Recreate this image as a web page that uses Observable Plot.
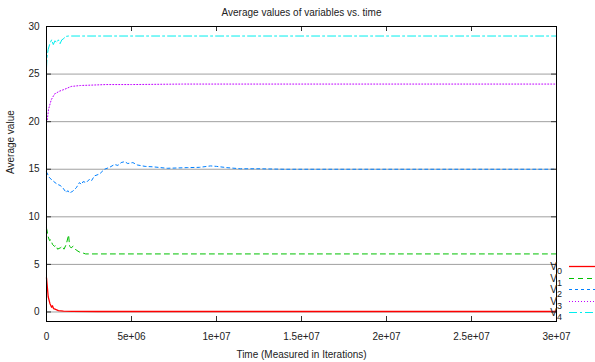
<!DOCTYPE html>
<html><head><meta charset="utf-8">
<script src="https://cdn.jsdelivr.net/npm/d3@7"></script>
<script src="https://cdn.jsdelivr.net/npm/@observablehq/plot@0.6"></script>
<style>body{margin:0;background:#fff} svg{display:block}</style>
</head><body><div id="chart"></div>
<script>
const title = "Average values of variables vs. time";
const xLabel = "Time (Measured in Iterations)";
const yLabel = "Average value";
const xTicks = [0, 5e6, 1e7, 1.5e7, 2e7, 2.5e7, 3e7];
const xTickLabels = ["0", "5e+06", "1e+07", "1.5e+07", "2e+07", "2.5e+07", "3e+07"];
const yTicks = [0, 5, 10, 15, 20, 25, 30];
const seriesNames = ["0", "1", "2", "3", "4"];
const seriesColors = ["#ff0000", "#00c000", "#0080ff", "#c000ff", "#00eeee"];
const seriesDashes = ["none", "5,4", "3,3", "1,2", "8,3,2,3"];

// time in millions of iterations
const t0 = [0, 0.05, 0.1, 0.2, 0.3, 0.35, 0.42, 0.5, 0.7, 1.0, 1.5, 3, 30];
const v0 = [3.6, 2.6, 1.6, 0.9, 0.5, 0.65, 0.35, 0.3, 0.15, 0.1, 0.07, 0.05, 0.05];
const t1 = [0, 0.04, 0.08, 0.18, 0.26, 0.35, 0.47, 0.56, 0.65, 0.82, 0.94, 1.03, 1.16, 1.3, 1.36, 1.45, 1.56, 1.75, 1.94, 2.14, 2.3, 30];
const v1 = [8.8, 8.5, 8.0, 7.5, 7.6, 7.1, 6.9, 7.0, 6.6, 6.75, 6.9, 6.6, 7.1, 8.1, 6.9, 6.75, 6.9, 6.5, 6.3, 6.2, 6.1, 6.1];
const t2 = [0, 0.18, 0.37, 0.5, 0.66, 0.8, 0.96, 1.16, 1.25, 1.35, 1.45, 1.55, 1.75, 1.94, 2.05, 2.15, 2.34, 2.53, 2.65, 2.82, 3.12, 3.41, 3.71, 4.0, 4.2, 4.39, 4.6, 4.78, 5.08, 5.34, 5.8, 6.29, 7.1, 8.28, 9.0, 9.65, 10.0, 10.6, 11.4, 12.5, 14, 30];
const v2 = [14.7, 14.1, 13.8, 13.6, 13.4, 13.3, 13.05, 12.55, 12.75, 12.5, 12.6, 12.7, 13.05, 13.6, 13.4, 13.7, 13.6, 13.95, 13.8, 14.3, 14.5, 15.0, 15.2, 15.5, 15.4, 15.7, 15.8, 15.6, 15.7, 15.45, 15.3, 15.25, 15.1, 15.17, 15.2, 15.35, 15.3, 15.17, 15.05, 15.05, 15.0, 15.0];
const t3 = [0, 0.04, 0.12, 0.28, 0.47, 0.76, 1.06, 1.45, 2.0, 2.8, 3.5, 5, 8, 30];
const v3 = [19.9, 20.1, 21.3, 22.3, 22.9, 23.2, 23.4, 23.7, 23.8, 23.85, 23.9, 23.9, 23.95, 23.95];
const t4 = [0, 0.03, 0.1, 0.2, 0.3, 0.4, 0.5, 0.6, 0.7, 0.8, 0.9, 1.0, 1.1, 1.3, 30];
const v4 = [25.6, 26.8, 27.6, 28.2, 28.6, 28.1, 28.5, 28.3, 28.6, 28.2, 28.6, 28.7, 28.95, 29.0, 29.0];

const times = [t0, t1, t2, t3, t4];
const values = [v0, v1, v2, v3, v4];

const W = 595, H = 362, mt = 26, mb = 41, ml = 46, mr = 39;
const FW = W - ml - mr, FH = H - mt - mb;
const tick = 5;

const lineMarks = seriesNames.map((name, s) => {
  const rows = times[s].map((t, i) => ({t: t * 1e6, v: values[s][i]}));
  return Plot.line(rows, {x: "t", y: "v", stroke: seriesColors[s], strokeWidth: s === 0 ? 1.3 : 1,
    strokeDasharray: seriesDashes[s] === "none" ? undefined : seriesDashes[s]});
});

const chart = Plot.plot({
  width: W, height: H,
  marginTop: mt, marginBottom: mb, marginLeft: ml, marginRight: mr,
  style: {fontFamily: "'Liberation Sans', Arial, sans-serif", fontSize: "10px", background: "white", color: "black"},
  x: {domain: [0, 3e7]},
  y: {domain: [-1, 30]},
  marks: [
    Plot.ruleY(yTicks, {stroke: "#a0a0a0", strokeWidth: 1}),
    ...lineMarks,
    Plot.ruleY(yTicks, {stroke: "#333", insetRight: FW - tick}),
    Plot.ruleY(yTicks, {stroke: "#333", insetLeft: FW - tick}),
    Plot.ruleX(xTicks, {stroke: "#333", insetTop: FH - tick}),
    Plot.ruleX(xTicks, {stroke: "#333", insetBottom: FH - tick}),
    Plot.frame({stroke: "black", strokeWidth: 1}),
    Plot.axisY(yTicks, {tickSize: 0, tickPadding: 7, label: null, fill: "#222"}),
    Plot.axisX(xTicks, {tickSize: 0, tickPadding: 11, label: null, fill: "#222",
      tickFormat: d => xTickLabels[xTicks.indexOf(d)]}),
    Plot.text([title], {frameAnchor: "top", dy: -18, text: d => d, fill: "#222"}),
    Plot.text([xLabel], {frameAnchor: "bottom", dy: 36, text: d => d, fill: "#222"}),
    Plot.text([yLabel], {frameAnchor: "left", dx: -36, rotate: -90, text: d => d, fill: "#222"})
  ]
});
document.getElementById("chart").appendChild(chart);

// legend (layout only)
const svg = d3.select(chart);
const lg = svg.append("g").attr("font-family", "'Liberation Sans', Arial, sans-serif").attr("font-size", 10);
const legendY = [266, 278, 289, 301, 312];
seriesNames.forEach((name, s) => {
  const y = legendY[s] + 0.5;
  const txt = lg.append("text").attr("x", 562).attr("y", y).attr("dy", "0.32em").attr("text-anchor", "end").attr("fill", "#222");
  txt.append("tspan").text("V");
  txt.append("tspan").attr("dy", 4).attr("font-size", 9).text(name);
  lg.append("line").attr("x1", 569).attr("x2", 600).attr("y1", y).attr("y2", y)
    .attr("stroke", seriesColors[s]).attr("stroke-width", s === 0 ? 1.3 : 1)
    .attr("stroke-dasharray", seriesDashes[s] === "none" ? null : seriesDashes[s]);
});
</script>
</body></html>
